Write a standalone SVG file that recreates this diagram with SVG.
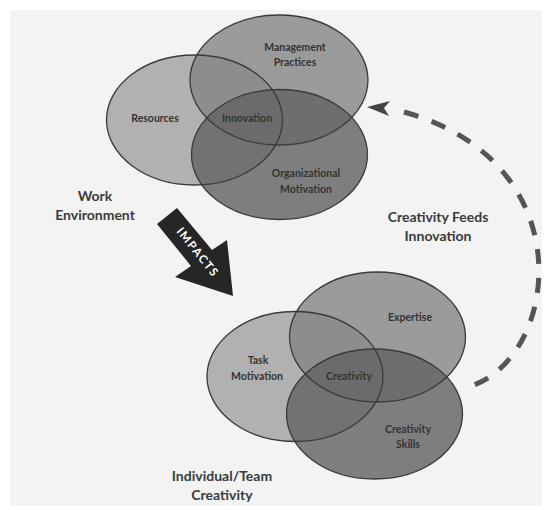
<svg xmlns="http://www.w3.org/2000/svg" width="545" height="510" viewBox="0 0 545 510">
<style>
.bg{fill:#f3f3f3}
.c1{fill:#a4a4a4;fill-opacity:0.85}
.c2{fill:#858585;fill-opacity:0.8}
.c3{fill:#646464;fill-opacity:0.82}
.ol{fill:none;stroke:#3a3a3a;stroke-width:1.3}
.in{font-family:Lato,"Liberation Sans",sans-serif;font-weight:bold;font-size:10.5px;fill:#333;text-anchor:middle}
.lb{font-family:Lato,"Liberation Sans",sans-serif;font-weight:bold;font-size:14px;fill:#3a3a3a;text-anchor:middle}
.dash{fill:none;stroke:#555;stroke-width:5;stroke-dasharray:15 14}
</style>
<rect x="0" y="0" width="545" height="510" fill="#fff"/>
<rect class="bg" x="10" y="10" width="532" height="496"/>

<g id="work-environment">
  <g id="resources"><ellipse class="c1" cx="194.5" cy="120" rx="88" ry="65"/></g>
  <g id="management-practices"><ellipse class="c2" cx="279" cy="80" rx="89" ry="65"/></g>
  <g id="organizational-motivation"><ellipse class="c3" cx="279.5" cy="154.5" rx="88" ry="65"/></g>
  <ellipse class="ol" cx="194.5" cy="120" rx="88" ry="65"/>
  <ellipse class="ol" cx="279" cy="80" rx="89" ry="65"/>
  <ellipse class="ol" cx="279.5" cy="154.5" rx="88" ry="65"/>
  <text class="in" x="295" y="51">Management</text>
  <text class="in" x="295" y="66">Practices</text>
  <text class="in" x="155" y="122">Resources</text>
  <text class="in" x="247" y="122">Innovation</text>
  <text class="in" x="306" y="177">Organizational</text>
  <text class="in" x="306" y="193">Motivation</text>
  <text class="lb" x="95" y="201">Work</text>
  <text class="lb" x="95" y="220">Environment</text>
</g>

<g id="individual-team-creativity">
  <g id="task-motivation"><ellipse class="c1" cx="295" cy="376.5" rx="88" ry="65"/></g>
  <g id="expertise"><ellipse class="c2" cx="377.5" cy="337" rx="88" ry="65"/></g>
  <g id="creativity-skills"><ellipse class="c3" cx="374.5" cy="414" rx="88" ry="65"/></g>
  <ellipse class="ol" cx="295" cy="376.5" rx="88" ry="65"/>
  <ellipse class="ol" cx="377.5" cy="337" rx="88" ry="65"/>
  <ellipse class="ol" cx="374.5" cy="414" rx="88" ry="65"/>
  <text class="in" x="410" y="321">Expertise</text>
  <text class="in" x="258" y="364">Task</text>
  <text class="in" x="257" y="380">Motivation</text>
  <text class="in" x="349" y="380">Creativity</text>
  <text class="in" x="408" y="433">Creativity</text>
  <text class="in" x="408" y="448">Skills</text>
  <text class="lb" x="222" y="481">Individual/Team</text>
  <text class="lb" x="222" y="500">Creativity</text>
</g>

<g id="impacts">
  <polygon points="157,224 177,208 212,250 227,240 233,296 175,277 191,266" fill="#262626"/>
  <text x="197" y="253" transform="rotate(51.3 197 253)" font-family="Lato,'Liberation Sans',sans-serif" font-weight="bold" font-size="11.5" fill="#fff" text-anchor="middle" letter-spacing="1.5" dominant-baseline="middle">IMPACTS</text>
</g>

<g id="connectors">
  <path class="dash" d="M 404 112 C 585 162, 560 360, 468 387"/>
  <polygon points="367,107 390,101 384,108 389,116" fill="#444"/>
  <text class="lb" x="438" y="222">Creativity Feeds</text>
  <text class="lb" x="438" y="241">Innovation</text>
</g>
</svg>
